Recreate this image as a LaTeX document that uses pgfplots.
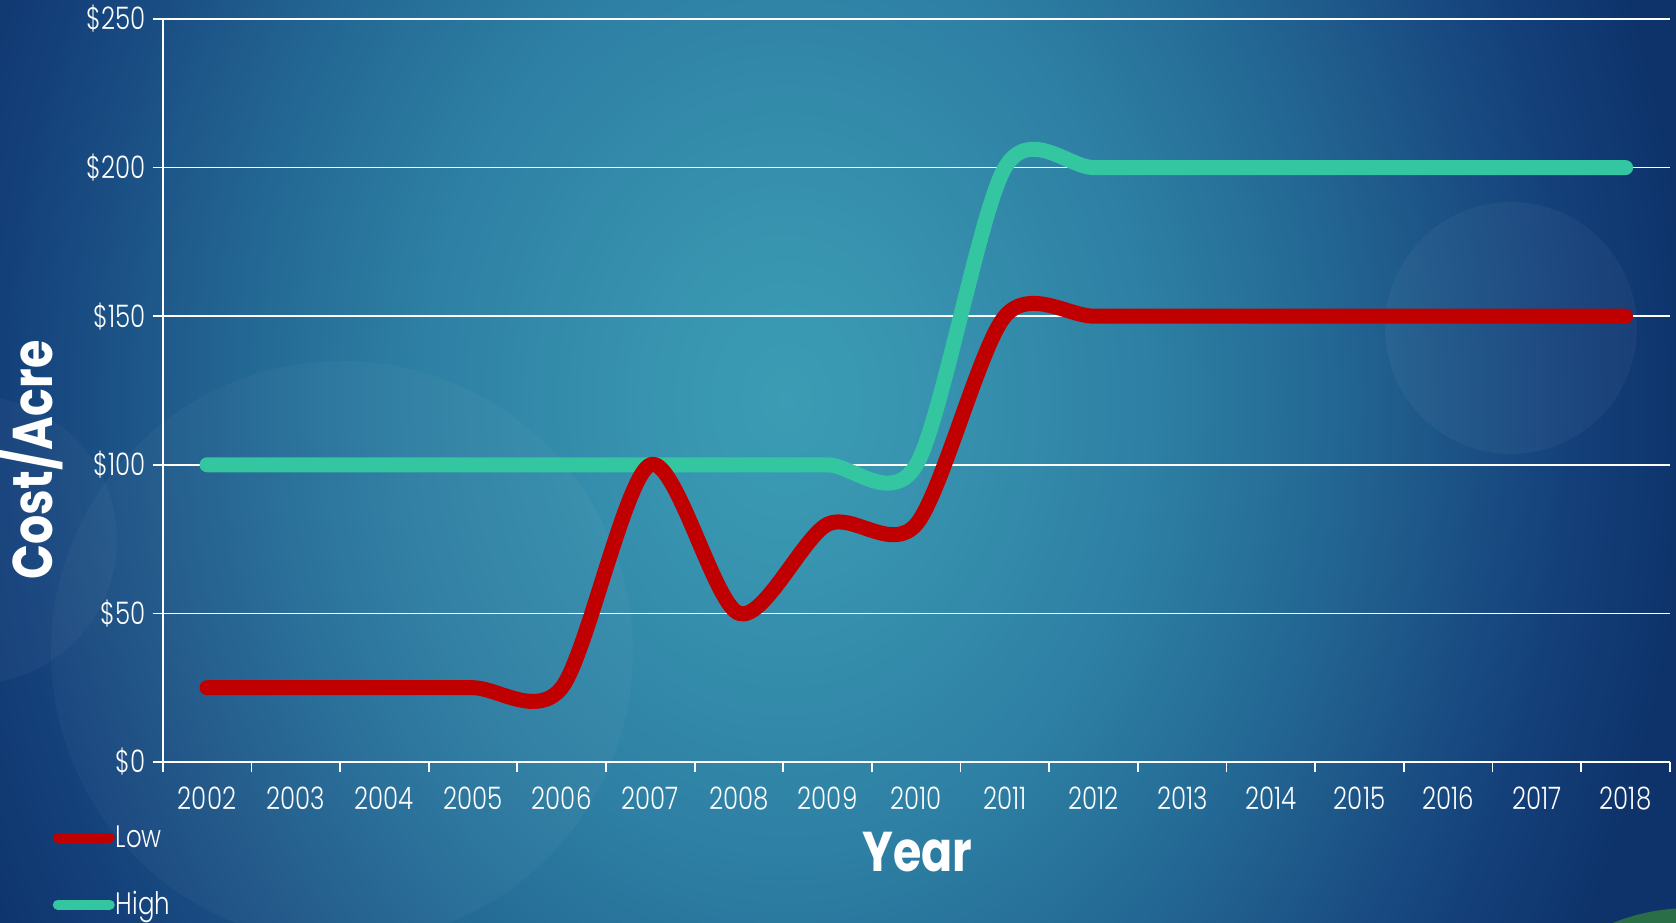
\documentclass[border=0pt]{standalone}
\usepackage{pgfplots}
\pgfplotsset{compat=1.18}
\usepackage{fontspec}
\setmainfont{Poppins}
\newfontfamily\lightfont{Poppins Light}[FakeStretch=0.79]
\newfontfamily\headfont{Poppins}[FakeStretch=0.82]

\definecolor{bg0}{HTML}{3B9CB4}
\definecolor{bg1}{HTML}{3895B0}
\definecolor{bg2}{HTML}{2E80A4}
\definecolor{bg3}{HTML}{246B96}
\definecolor{bg4}{HTML}{1F5A8B}
\definecolor{bg5}{HTML}{14407A}
\definecolor{bg6}{HTML}{0E336B}
\definecolor{bg7}{HTML}{0D3169}
\definecolor{lowred}{HTML}{C00000}
\definecolor{highgreen}{HTML}{33C6A0}
\definecolor{cornergreen}{HTML}{2A6E48}

% radial glow, radii in bp at natural size
\pgfdeclareradialshading{slidebg}{\pgfpoint{0bp}{0bp}}{%
  color(0bp)=(bg0); color(60bp)=(bg1); color(180bp)=(bg2);
  color(260bp)=(bg3); color(310bp)=(bg4); color(390bp)=(bg5);
  color(450bp)=(bg6); color(600bp)=(bg7)}

\newcommand\tickfont{\lightfont\fontsize{15.5}{18}\selectfont}
\newcommand\titlefont{\headfont\bfseries\fontsize{28}{32}\selectfont}

\begin{document}
\begin{tikzpicture}
\useasboundingbox (0,0) rectangle (838pt,461pt);
\begin{scope}
  \clip (0,0) rectangle (838pt,461pt);
  \begin{scope}[shift={(393pt,261pt)}, yscale=1.25]
    \pgflowlevelsynccm
    \pgftext{\pgfuseshading{slidebg}}
  \end{scope}
  \fill[white, opacity=0.03] (171pt,135pt) circle (145.5pt);
  \fill[white, opacity=0.03] (-13.5pt,191pt) circle (72pt);
  \fill[white, opacity=0.04] (755.5pt,297pt) circle (63pt);
  \fill[cornergreen] (845pt,-96pt) circle (103pt);
\end{scope}

\begin{axis}[
  at={(81.35pt,80pt)}, anchor=south west,
  scale only axis, width=753.6pt, height=371.5pt,
  xmin=-0.5, xmax=16.5, ymin=0, ymax=250,
  axis x line*=bottom, axis y line*=left,
  axis line style={white, line width=0.85pt, -},
  tick pos=left, tick align=outside,
  major tick length=5pt,
  tick style={white, line width=0.85pt},
  xtick={-0.5,0.5,...,16.5}, xticklabels={},
  extra x ticks={0,1,...,16},
  extra x tick labels={2002,2003,2004,2005,2006,2007,2008,2009,2010,2011,2012,2013,2014,2015,2016,2017,2018},
  extra x tick style={major tick length=0pt},
  xticklabel style={font=\tickfont, text=white, yshift=-9pt},
  ytick={0,50,...,250},
  yticklabels={\$0,\$50,\$100,\$150,\$200,\$250},
  yticklabel style={font=\tickfont, text=white},
  ymajorgrids, grid style={white, line width=0.75pt},
  xlabel={Year}, ylabel={Cost/Acre},
  xlabel style={at={(axis description cs:0.5008,-0.1206)}, anchor=center, font=\titlefont, text=white},
  ylabel style={at={(axis description cs:-0.0875,0.4066)}, anchor=center, rotate=0, font=\titlefont, text=white},
  reverse legend,
  legend cell align=left,
  legend image code/.code={\draw[#1, line width=5pt, line cap=round] (0pt,0pt) -- (26pt,0pt);},
  legend style={at={(axis description cs:-0.0732,-0.0800)}, anchor=north west,
    draw=none, fill=none, text=white, font=\tickfont, inner sep=0pt,
    row sep=16.5pt, nodes={inner xsep=0.5pt}},
  clip=false,
]
% high estimate
\addplot[highgreen, line width=7.5pt, line cap=round, line join=round, smooth, tension=0.5]
  coordinates {(0,100) (1,100) (2,100) (3,100) (4,100) (5,100) (6,100) (7,100) (8,100)
               (9,200) (10,200) (11,200) (12,200) (13,200) (14,200) (15,200) (16,200)};
\addlegendentry{High}
% low estimate
\addplot[lowred, line width=7.5pt, line cap=round, line join=round, smooth, tension=0.5]
  coordinates {(0,25) (1,25) (2,25) (3,25) (4,25) (5,100) (6,50) (7,80) (8,80)
               (9,150) (10,150) (11,150) (12,150) (13,150) (14,150) (15,150) (16,150)};
\addlegendentry{Low}
\end{axis}
\end{tikzpicture}
\end{document}
